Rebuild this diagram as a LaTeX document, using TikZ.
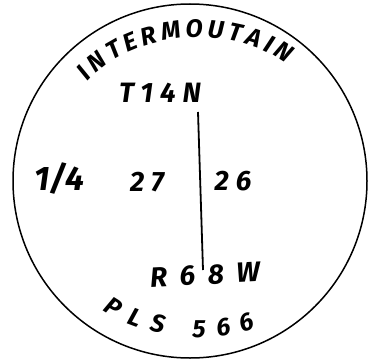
\documentclass[tikz,border=0pt]{standalone}
\usepackage{fontspec}
\newfontfamily\handfont[LetterSpace=25]{Fira Sans}
\newfontfamily\handwide[LetterSpace=45]{Fira Sans}
\newfontfamily\handplain{Fira Sans}
\usetikzlibrary{decorations.text}
\newcommand{\handtext}{\handfont\bfseries\itshape\fontsize{28}{28}\selectfont}
\newcommand{\handarc}{\handplain\bfseries\itshape\fontsize{25}{25}\selectfont}

\begin{document}
\begin{tikzpicture}[x=1pt, y=1pt,
  hand/.style={font=\handtext, inner sep=0pt}]
\useasboundingbox (0,0) rectangle (369,362);
\node[draw, circle, line width=1.5pt, minimum size=354pt, inner sep=0pt] (cap) at (190,181) {};
% township / range text
\node[hand] (town) at (160,269) {T14N};
\node[hand, font=\handwide\bfseries\itshape\fontsize{28}{28}\selectfont, rotate=3] (range) at (205,87) {R68W};
\node[hand, font=\handplain\bfseries\itshape\fontsize{34}{34}\selectfont] (qtr) at (59,183) {1/4};
\node[hand] (sec27) at (147,180) {27};
\node[hand] (sec26) at (233,181) {26};
% section line
\coordinate (lntop) at (198,250);
\coordinate (lnbot) at (203,92);
\draw[line width=1.8pt] (lntop) -- (lnbot);
% arced texts
\path[decorate, decoration={text along path, text align=fit to path,
  text={|\handarc|INTERMOUTAIN}}]
  (88,280) .. controls (132,331) and (230,340) .. (286,298);
\path[decorate, decoration={text along path, text align=fit to path,
  text={|\handarc|PLS 566}}]
  (103,52) .. controls (135,28) and (205,14) .. (256,34);
\end{tikzpicture}
\end{document}
